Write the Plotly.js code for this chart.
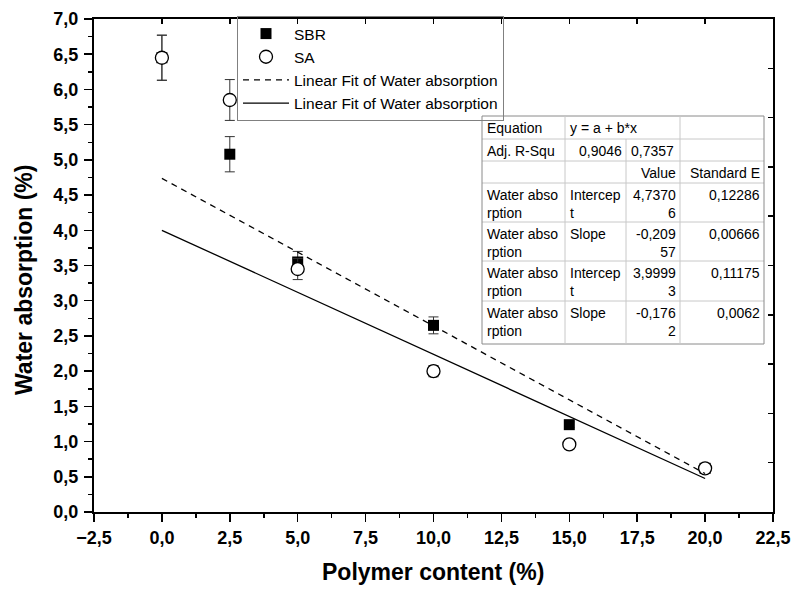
<!DOCTYPE html>
<html>
<head>
<meta charset="utf-8">
<script src="https://cdn.plot.ly/plotly-3.0.1.min.js"></script>
<style>html,body{margin:0;padding:0;background:#fff;}#chart{width:793px;height:589px;}</style>
</head>
<body>
<div id="chart"></div>
<script>
// ---- data ----
const polymerContent = [0, 2.5, 5, 10, 15, 20];
const sbrAbsorption = [6.45, 5.08, 3.55, 2.65, 1.24, 0.62];
const sbrError = [0.32, 0.25, 0.15, 0.12, 0.04, 0.05];
const saAbsorption = [6.45, 5.85, 3.45, 2.00, 0.96, 0.62];
const saError = [0.32, 0.29, 0.15, 0.08, 0.05, 0.05];
const fitX = [0, 20];
const fitSBR = [4.737, 0.546];
const fitSA = [4.000, 0.476];
const seriesNames = ['SBR', 'SA', 'Linear Fit of Water absorption', 'Linear Fit of Water absorption'];
const tableText = [
  ['Equation', 'y = a + b*x', '', ''],
  ['Adj. R-Squ', '0,9046', '0,7357', ''],
  ['', '', 'Value', 'Standard E'],
  ['Water abso<br>rption', 'Intercep<br>t', '4,7370<br>6', '0,12286'],
  ['Water abso<br>rption', 'Slope', '-0,209<br>57', '0,00666'],
  ['Water abso<br>rption', 'Intercep<br>t', '3,9999<br>3', '0,11175'],
  ['Water abso<br>rption', 'Slope', '-0,176<br>2', '0,0062']
];
const tableAlign = [
  ['left', 'left', 'left', 'left'],
  ['left', 'right', 'left', 'left'],
  ['left', 'left', 'right', 'right'],
  ['left', 'left', 'right', 'right'],
  ['left', 'left', 'right', 'right'],
  ['left', 'left', 'right', 'right'],
  ['left', 'left', 'right', 'right']
];

// ---- layout geometry (pixels) ----
const L = 94, R = 773, T = 19, B = 512;
const W = 793, H = 589;
const px = x => (x - L) / (R - L);
const py = y => (B - y) / (B - T);
const colEdges = [482, 565, 626, 680, 764];
const rowEdges = [116, 139, 161, 183, 222, 261, 301, 344];

const FONT = 'Liberation Sans, Arial, sans-serif';

const traces = [
  {
    x: polymerContent, y: sbrAbsorption, name: seriesNames[0], type: 'scatter', mode: 'markers',
    marker: {symbol: 'square', size: 11, color: '#000', line: {width: 0}},
    error_y: {type: 'data', array: sbrError, visible: true, color: '#333', thickness: 1, width: 5}
  },
  {
    x: polymerContent, y: saAbsorption, name: seriesNames[1], type: 'scatter', mode: 'markers',
    marker: {symbol: 'circle', size: 13, color: '#fff', line: {width: 1.3, color: '#000'}},
    error_y: {type: 'data', array: saError, visible: true, color: '#333', thickness: 1, width: 5}
  },
  {
    x: fitX, y: fitSBR, name: seriesNames[2], type: 'scatter', mode: 'lines',
    line: {color: '#000', width: 1.3, dash: '6px,5px'}
  },
  {
    x: fitX, y: fitSA, name: seriesNames[3], type: 'scatter', mode: 'lines',
    line: {color: '#000', width: 1.3}
  },
  {x: [], y: [], xaxis: 'x2', yaxis: 'y', showlegend: false, hoverinfo: 'skip'},
  {x: [], y: [], xaxis: 'x', yaxis: 'y2', showlegend: false, hoverinfo: 'skip'}
];

const shapes = [];
const annotations = [];
const gridColor = '#c8c8c8';
// table horizontal lines
rowEdges.forEach((ry, i) => {
  shapes.push({type: 'line', xref: 'paper', yref: 'paper', x0: px(colEdges[0]), x1: px(colEdges[4]), y0: py(ry), y1: py(ry),
    line: {color: (i === 0 || i === rowEdges.length - 1) ? '#8a8a8a' : gridColor, width: 1}});
});
// table vertical lines
colEdges.forEach((cx, j) => {
  const outer = (j === 0 || j === colEdges.length - 1);
  const yTop = (j === 2) ? rowEdges[1] : rowEdges[0];
  shapes.push({type: 'line', xref: 'paper', yref: 'paper', x0: px(cx), x1: px(cx), y0: py(yTop), y1: py(rowEdges[rowEdges.length - 1]),
    line: {color: outer ? '#8a8a8a' : gridColor, width: 1}});
});
// table text
tableText.forEach((row, i) => {
  row.forEach((txt, j) => {
    if (!txt) return;
    const al = tableAlign[i][j];
    annotations.push({
      xref: 'paper', yref: 'paper',
      x: al === 'left' ? px(colEdges[j] + 3) : px(colEdges[j + 1] - 2),
      y: py(rowEdges[i] + 2),
      xanchor: al, yanchor: 'top', align: al,
      text: txt, showarrow: false,
      font: {family: FONT, size: 14, color: '#000'}
    });
  });
});
// axis titles
annotations.push({
  xref: 'paper', yref: 'paper', x: px(24), y: py(280), xanchor: 'center', yanchor: 'middle',
  textangle: -90, showarrow: false, text: '<b>Water absorption (%)</b>',
  font: {family: FONT, size: 23, color: '#000'}
});
annotations.push({
  xref: 'paper', yref: 'paper', x: px(433), y: py(572), xanchor: 'center', yanchor: 'middle',
  showarrow: false, text: '<b>Polymer content (%)</b>',
  font: {family: FONT, size: 23, color: '#000'}
});

const tickFont = {family: FONT, size: 18, color: '#000', weight: 'bold'};

const layout = {
  width: W, height: H,
  margin: {l: L, r: W - R, t: T, b: H - B, pad: 0},
  paper_bgcolor: '#fff', plot_bgcolor: '#fff',
  separators: ',.',
  showlegend: true,
  legend: {
    x: px(237), y: py(16), xanchor: 'left', yanchor: 'top',
    bgcolor: 'rgba(0,0,0,0)', bordercolor: '#808080', borderwidth: 1,
    font: {family: FONT, size: 15.5, color: '#000'},
    itemwidth: 46, tracegroupgap: 0
  },
  xaxis: {
    range: [-2.5, 22.5], tick0: -2.5, dtick: 2.5, tickformat: '.1f',
    showline: true, linecolor: '#000', linewidth: 2, zeroline: false, showgrid: false,
    ticks: 'outside', ticklen: 8, tickwidth: 1.5, tickcolor: '#000',
    minor: {dtick: 1.25, ticks: 'outside', ticklen: 4, tickwidth: 1.5, tickcolor: '#000', showgrid: false},
    tickfont: tickFont, fixedrange: true
  },
  xaxis2: {
    overlaying: 'x', side: 'top', anchor: 'y', range: [-2.5, 22.5], tick0: -2.5, dtick: 2.5,
    showline: true, linecolor: '#000', linewidth: 2, zeroline: false, showgrid: false,
    ticks: 'inside', ticklen: 5, tickwidth: 1.5, tickcolor: '#000', showticklabels: false
  },
  yaxis: {
    range: [0, 7], tick0: 0, dtick: 0.5, tickformat: '.1f',
    showline: true, linecolor: '#000', linewidth: 2, zeroline: false, showgrid: false,
    ticks: 'outside', ticklen: 8, tickwidth: 1.5, tickcolor: '#000',
    minor: {dtick: 0.25, ticks: 'outside', ticklen: 4, tickwidth: 1.5, tickcolor: '#000', showgrid: false},
    tickfont: tickFont, ticklabelstandoff: 2, fixedrange: true
  },
  yaxis2: {
    overlaying: 'y', side: 'right', anchor: 'x', range: [0, 7], tick0: 0, dtick: 0.7,
    showline: true, linecolor: '#000', linewidth: 2, zeroline: false, showgrid: false,
    ticks: 'inside', ticklen: 5, tickwidth: 1.5, tickcolor: '#000', showticklabels: false
  },
  shapes: shapes,
  annotations: annotations
};

Plotly.newPlot('chart', traces, layout, {staticPlot: true, displayModeBar: false});
</script>
</body>
</html>
